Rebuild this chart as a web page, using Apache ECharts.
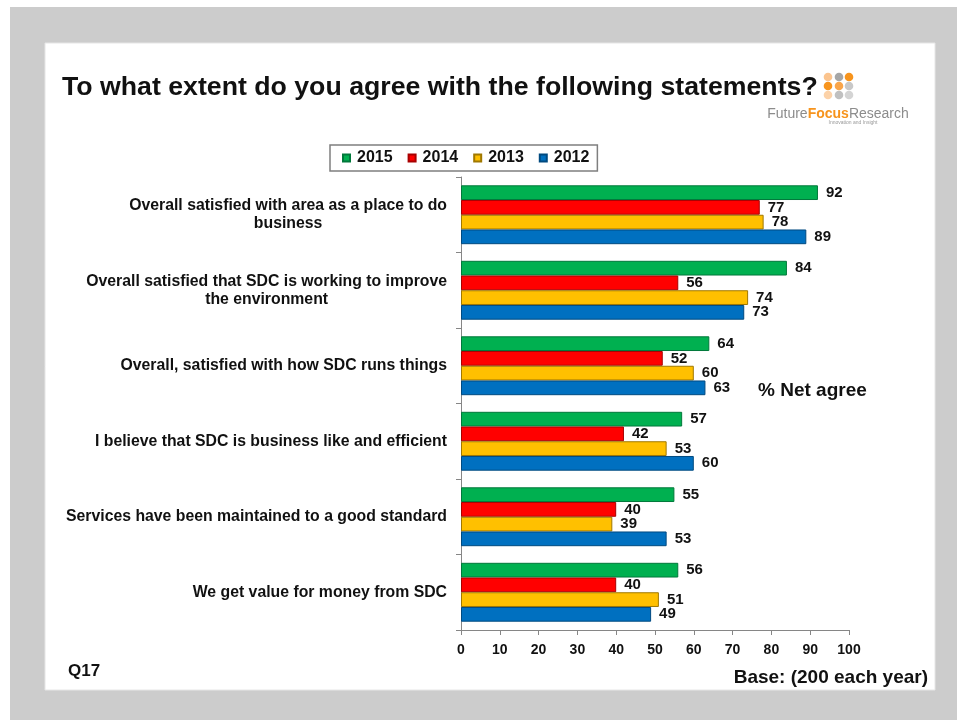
<!DOCTYPE html>
<html>
<head>
<meta charset="utf-8">
<script src="https://cdn.jsdelivr.net/npm/echarts@6/dist/echarts.min.js"></script>
<style>html,body{margin:0;padding:0;background:#fff;}#c{width:957px;height:720px;}</style>
</head>
<body>
<div id="c"></div>
<script>
var categories = [
  "Overall satisfied with area as a place to do\nbusiness",
  "Overall satisfied that SDC is working to improve\nthe environment",
  "Overall, satisfied with how SDC runs things",
  "I believe that SDC is business like and efficient",
  "Services have been maintained to a good standard",
  "We get value for money from SDC"
];
var years = ["2015", "2014", "2013", "2012"];
var v2015 = [92, 84, 64, 57, 55, 56];
var v2014 = [77, 56, 52, 42, 40, 40];
var v2013 = [78, 74, 60, 53, 39, 51];
var v2012 = [89, 73, 63, 60, 53, 49];
var xTicks = [0, 10, 20, 30, 40, 50, 60, 70, 80, 90, 100];

var seriesValues = [v2015, v2014, v2013, v2012];
var colors = ["#00b050", "#ff0000", "#ffc000", "#0070c0"];
var borders = ["#00783a", "#a80000", "#a07800", "#004a80"];
var FONT = "'Liberation Sans', Arial, sans-serif";

var chart = echarts.init(document.getElementById('c'), null, {renderer: 'canvas'});

var series = years.map(function (y, i) {
  return {
    name: y,
    type: 'bar',
    data: seriesValues[i],
    barGap: '0%',
    barCategoryGap: '22%',
    itemStyle: {color: colors[i], borderColor: borders[i], borderWidth: 1},
    label: {
      show: true,
      position: 'right',
      distance: 8,
      color: '#111',
      fontFamily: FONT,
      fontWeight: 'bold',
      fontSize: 15
    }
  };
});

var dotPos = [[828,77],[839,77],[849,77],[828,86],[839,86],[849,86],[828,95],[839,95],[849,95]];
var dotCol = ['#fbc48e','#a6a6a6','#f7941d','#f7941d','#f9a54a','#c8c8c8','#fcd2a8','#c0c0c0','#d4d4d4'];
var dots = dotPos.map(function (p, i) {
  return {type: 'circle', shape: {cx: p[0], cy: p[1], r: 4.3}, style: {fill: dotCol[i]}, z: 5};
});

var option = {
  backgroundColor: '#ffffff',
  animation: false,
  color: colors,
  legend: {
    data: years,
    left: 330,
    top: 145,
    orient: 'horizontal',
    padding: [5, 8, 5, 12],
    itemGap: 15,
    itemWidth: 7,
    itemHeight: 7,
    icon: 'rect',
    borderColor: '#7f7f7f',
    borderWidth: 1.5,
    borderRadius: 0,
    textStyle: {fontFamily: FONT, fontWeight: 'bold', fontSize: 16, color: '#111', padding: [0, 0, 0, 2]}
  },
  grid: {left: 461, right: 108, top: 177, bottom: 90, containLabel: false},
  xAxis: {
    type: 'value',
    min: 0,
    max: 100,
    interval: 10,
    axisLine: {show: true, lineStyle: {color: '#868686', width: 1}},
    axisTick: {show: true, length: 5, lineStyle: {color: '#868686'}},
    splitLine: {show: false},
    axisLabel: {
      margin: 13,
      fontFamily: FONT, fontWeight: 'bold', fontSize: 14, color: '#111',
      formatter: function (v) { return xTicks.indexOf(v) >= 0 ? String(v) : ''; }
    }
  },
  yAxis: {
    type: 'category',
    data: categories,
    inverse: true,
    axisLine: {show: true, lineStyle: {color: '#868686', width: 1}},
    axisTick: {show: true, length: 5, lineStyle: {color: '#868686'}},
    axisLabel: {
      margin: 14,
      fontFamily: FONT, fontWeight: 'bold', fontSize: 15.8, color: '#111',
      lineHeight: 18,
      formatter: function (v) { return '{c|' + v + '}'; },
      rich: {c: {align: 'center', fontFamily: FONT, fontWeight: 'bold', fontSize: 15.8, color: '#111', lineHeight: 18}}
    }
  },
  series: series,
  graphic: [
    {type: 'rect', shape: {x: 10, y: 7, width: 947, height: 713}, style: {fill: '#cccccc'}, z: -10, silent: true},
    {type: 'rect', shape: {x: 45, y: 43, width: 890, height: 647}, style: {fill: '#ffffff', stroke: '#e6e6e6', lineWidth: 1}, z: -9, silent: true},
    {type: 'text', x: 62, y: 88, z: 5, style: {text: 'To what extent do you agree with the following statements?', font: 'bold 26.7px ' + FONT, fill: '#111', textVerticalAlign: 'middle', textAlign: 'left'}},
    {type: 'text', x: 838, y: 114, z: 5, style: {
      text: '{g|Future}{o|Focus}{g|Research}', textAlign: 'center', textVerticalAlign: 'middle',
      rich: {
        g: {fill: '#8c8c8c', font: '14px ' + FONT},
        o: {fill: '#f7941d', font: 'bold 14px ' + FONT}
      }
    }},
    {type: 'text', x: 853, y: 123, z: 5, style: {text: 'Innovation and Insight', font: '5px ' + FONT, fill: '#999', textAlign: 'center', textVerticalAlign: 'middle'}},
    {type: 'text', x: 758, y: 391, z: 5, style: {text: '% Net agree', font: 'bold 19px ' + FONT, fill: '#111', textVerticalAlign: 'middle'}},
    {type: 'text', x: 68, y: 671, z: 5, style: {text: 'Q17', font: 'bold 17px ' + FONT, fill: '#111', textVerticalAlign: 'middle'}},
    {type: 'text', x: 928, y: 678, z: 5, style: {text: 'Base: (200 each year)', font: 'bold 19px ' + FONT, fill: '#111', textAlign: 'right', textVerticalAlign: 'middle'}}
  ].concat(dots)
};
chart.setOption(option);
</script>
</body>
</html>
